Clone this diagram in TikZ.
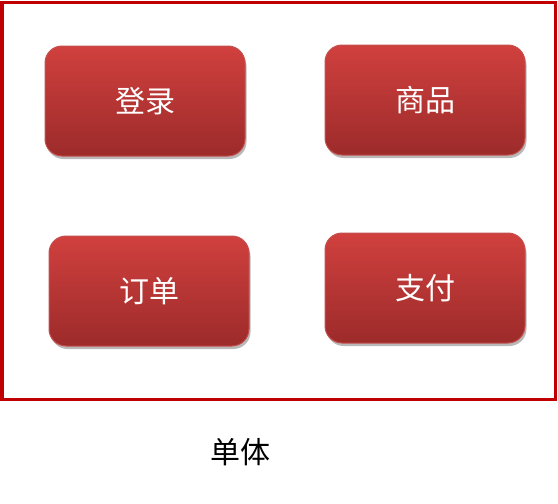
\documentclass[tikz,border=0pt]{standalone}
\usepackage{fontspec}
\setmainfont{Noto Sans CJK SC}
\usetikzlibrary{shadows}

\definecolor{framered}{HTML}{C00000}
\definecolor{boxtop}{HTML}{D0403E}
\definecolor{boxbottom}{HTML}{9C2B2A}
\definecolor{boxedge}{HTML}{C4504E}

\tikzset{
  module/.style={draw=boxedge, line width=1pt, rounded corners=17pt,
    top color=boxtop, bottom color=boxbottom,
    minimum width=200pt, minimum height=110pt,
    text=white, font=\fontsize{30}{36}\selectfont,
    drop shadow={shadow xshift=1.5pt, shadow yshift=-3pt, opacity=0.55}}
}

\begin{document}
\begin{tikzpicture}[x=1pt, y=-1pt]
            \useasboundingbox (0,0) rectangle (558,504);
            \draw[framered, line width=3pt] (2,2) rectangle (555,399);

            \node[module] (login) at (145,101) {登录};
            \node[module] (goods) at (425,100) {商品};
            \node[module] (order) at (149,291) {订单};
            \node[module] (pay) at (425,288) {支付};

            \node[font=\fontsize{30}{36}\selectfont] (mono) at (240,452) {单体};
        \end{tikzpicture}
\end{document}
